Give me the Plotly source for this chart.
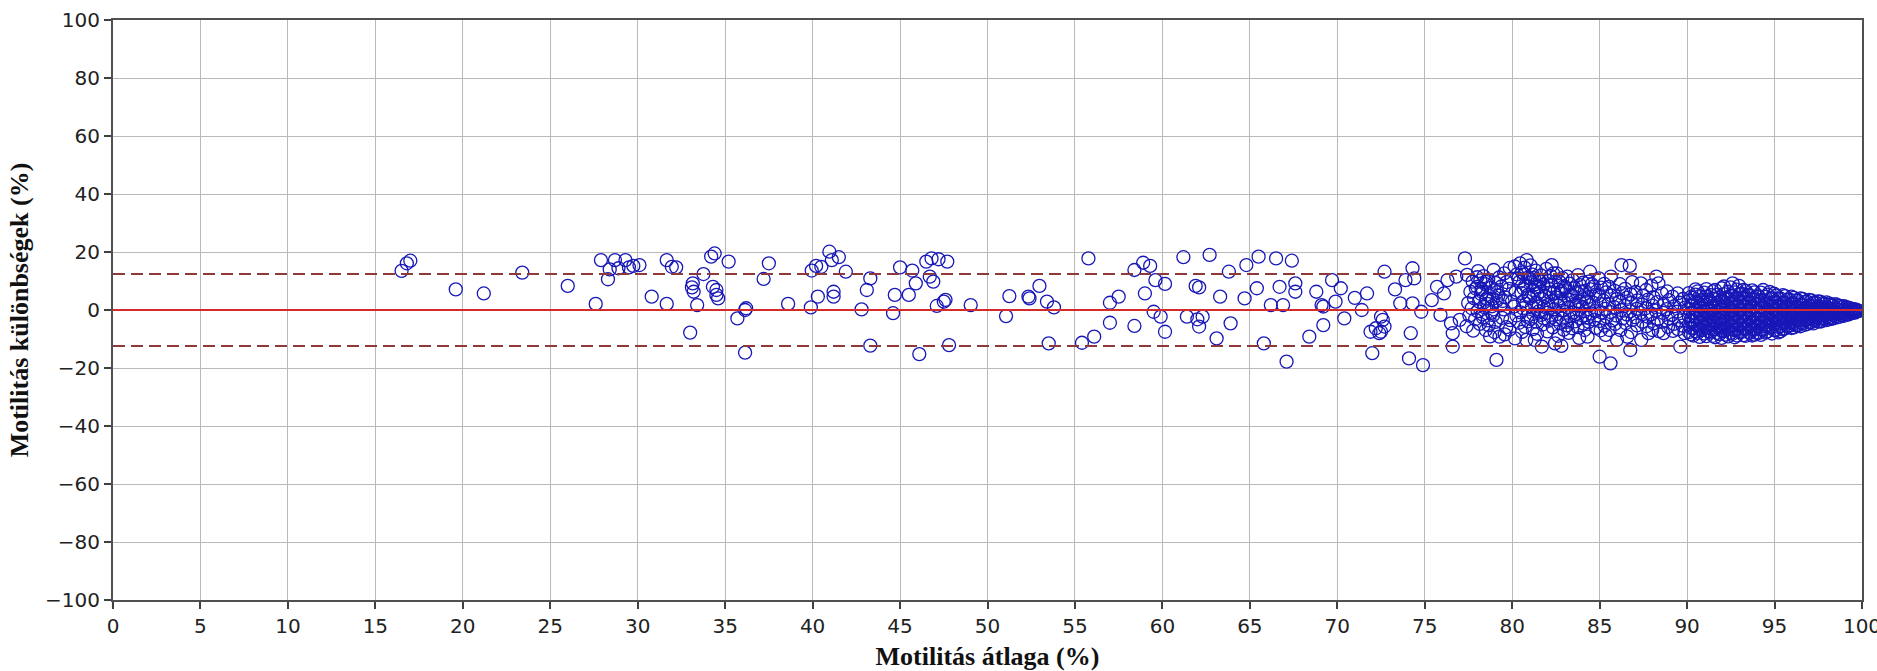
import plotly.graph_objects as go

# ---------------- data ----------------
# sparse points, low / middle motility range
sparse_x = [16.5, 16.8, 17.0, 19.6, 21.2, 23.4,
            26.0, 27.6, 27.9, 28.3, 28.4, 28.7, 28.9, 29.3, 29.5, 29.75, 30.1, 30.8, 31.66, 31.66,
            31.95, 32.2, 33.0, 33.1, 33.15, 33.2, 33.4, 33.76, 34.2, 34.4, 34.3, 34.5, 34.6, 34.5,
            35.2, 35.7, 36.14, 36.2, 36.14, 37.2, 37.5, 38.6, 39.9, 39.95, 40.2, 40.5, 40.3, 40.96,
            41.1, 41.2, 41.2, 41.5, 41.9, 42.8, 43.1, 43.3, 43.3, 44.6, 44.7, 45.0, 45.5, 45.7,
            45.9, 46.1, 46.5, 46.8, 46.7, 46.9, 47.1, 47.6, 47.7, 47.8, 47.2, 47.5,
            49.04, 51.06, 51.25, 52.34, 52.4, 52.97, 53.4, 53.5, 53.8, 55.4, 55.77, 56.1, 57.0,
            57.0, 57.5, 58.4, 58.4, 58.9, 59.0, 59.3, 59.5, 59.6, 59.9, 60.15, 60.15, 61.2, 61.4,
            61.9, 62.1, 62.0, 62.3, 62.1, 62.7, 63.1, 63.3, 63.8, 63.9, 64.7, 64.8, 65.4, 65.5,
            65.8, 66.2, 66.5, 66.7, 66.9, 67.1, 67.4, 67.6, 67.6, 68.4, 68.8, 69.1, 69.2, 69.2,
            69.7, 69.9, 70.2, 70.4]
sparse_y = [13.5, 16.1, 17.0, 7.1, 5.7, 12.9,
            8.3, 2.1, 17.2, 10.6, 14.0, 17.2, 14.4, 17.2, 14.7, 15.2, 15.5, 4.6, 2.1, 17.2,
            14.9, 14.7, -7.8, 7.8, 9.2, 6.3, 1.7, 12.4, 18.4, 19.5, 8.0, 6.9, 4.0, 5.2,
            16.7, -2.9, 0.0, 0.6, -14.7, 10.7, 16.1, 2.1, 0.9, 13.6, 15.2, 14.9, 4.6, 20.1,
            17.2, 6.3, 4.6, 18.2, 13.2, 0.2, 6.9, 10.9, -12.3, -1.1, 5.2, 14.7, 5.2, 13.6,
            9.2, -15.2, 16.7, 17.8, 11.5, 9.8, 1.4, 3.5, 16.7, -12.1, 17.5, 2.9,
            1.7, -2.1, 4.8, 4.6, 4.0, 8.3, 2.9, -11.5, 0.9, -11.3, 17.8, -9.2, 2.5,
            -4.4, 4.6, 13.8, -5.5, 16.3, 5.7, 15.2, -0.6, 10.3, -2.3, 9.0, -7.5, 18.2, -2.3,
            8.3, 7.8, -3.2, -2.3, -5.7, 19.0, -9.8, 4.6, 13.2, -4.6, 4.0, 15.5, 7.5, 18.4,
            -11.5, 1.7, 17.8, 8.0, 1.7, -17.8, 17.0, 9.2, 6.3, -9.2, 6.3, 1.7, -5.2, 1.2,
            10.3, 2.9, 7.5, -2.9]

# sparse points just before the dense cluster
edge_x = [71.0, 71.4, 71.7, 72.0, 71.9, 72.2, 72.4, 72.5, 72.7, 72.7, 73.3, 73.6, 73.9, 74.1,
          74.2, 74.3, 74.4, 74.3, 74.8, 74.9, 75.4, 75.7, 76.1, 76.3, 75.9, 76.5, 76.6, 76.6,
          76.8, 77.3, 77.0, 72.6, 72.5, 79.1]
edge_y = [4.2, 0.0, 5.7, -14.9, -7.5, -6.3, -8.0, -2.3, -5.7, 13.2, 7.1, 2.3, 10.3, -16.7,
          -8.0, 14.4, 10.9, 2.3, -0.6, -19.0, 3.4, 8.0, 5.7, 10.3, -1.7, -4.6, -8.0, -12.6,
          11.5, 17.8, -3.4, -3.4, -7.5, -17.2]

# dense cluster 77-90, read strip by strip (x row, matching y row)
dense_x_rows = [
    [77.42, 77.61, 77.48, 77.55, 77.39],
    [77.74, 77.92, 77.81, 77.69, 77.88, 77.77],
    [78.05, 78.18, 77.99, 78.22, 78.11, 78.02, 78.15],
    [78.36, 78.47, 78.29, 78.52, 78.41, 78.33, 78.49],
    [78.63, 78.78, 78.69, 78.58, 78.81, 78.66, 78.74],
    [78.94, 79.08, 78.97, 79.12, 78.91, 79.05, 78.99],
    [79.25, 79.38, 79.21, 79.33, 79.42, 79.27],
    [79.54, 79.68, 79.59, 79.51, 79.66, 79.57],
    [79.86, 79.95, 79.82, 79.98, 79.89, 79.84],
    [80.14, 80.27, 80.19, 80.11, 80.24, 80.16],
    [80.45, 80.57, 80.41, 80.53, 80.62, 80.48, 80.39, 80.56],
    [80.83, 80.71, 80.88, 80.76, 80.92, 80.79, 80.85, 80.74, 80.81],
    [81.04, 81.16, 81.09, 81.21, 81.02, 81.13, 81.07, 81.18],
    [81.35, 81.47, 81.32, 81.44, 81.38, 81.51, 81.36, 81.42, 81.29],
    [81.66, 81.78, 81.62, 81.73, 81.81, 81.65, 81.74, 81.69],
    [81.95, 82.07, 82.12, 81.93, 82.04, 81.98, 82.09, 82.01],
    [82.26, 82.35, 82.22, 82.38, 82.29, 82.41, 82.24, 82.33, 82.45],
    [82.55, 82.68, 82.61, 82.52, 82.66, 82.58, 82.71, 82.63],
    [82.87, 82.96, 82.83, 82.99, 82.91, 82.85, 82.94, 82.81],
    [83.16, 83.27, 83.12, 83.24, 83.19, 83.31, 83.14, 83.22],
    [83.46, 83.57, 83.43, 83.55, 83.49, 83.61, 83.44],
    [83.76, 83.88, 83.72, 83.84, 83.79, 83.91, 83.74, 83.83],
    [84.05, 84.16, 84.12, 84.03, 84.19, 84.08, 84.14],
    [84.45, 84.36, 84.48, 84.33, 84.42, 84.51, 84.38, 84.31],
    [84.66, 84.77, 84.63, 84.74, 84.69, 84.78],
    [84.96, 85.08, 84.93, 85.04, 85.11, 84.98, 85.06, 85.0],
    [85.26, 85.37, 85.22, 85.33, 85.41, 85.28, 85.35],
    [85.64, 85.55, 85.68, 85.52, 85.61, 85.71, 85.57, 85.62],
    [85.86, 85.97, 85.83, 85.94, 85.88, 85.99],
    [86.25, 86.16, 86.28, 86.13, 86.22, 86.31, 86.18],
    [86.46, 86.57, 86.43, 86.54, 86.49, 86.58],
    [86.72, 86.86, 86.77, 86.83, 86.74, 86.88, 86.79, 86.75],
    [87.06, 87.17, 87.12, 87.03, 87.14],
    [87.36, 87.47, 87.43, 87.33, 87.45, 87.38],
    [87.66, 87.77, 87.63, 87.74, 87.68, 87.79],
    [87.96, 88.07, 88.03, 87.94, 88.09, 88.01],
    [88.24, 88.36, 88.28, 88.21, 88.33, 88.38],
    [88.56, 88.67, 88.63, 88.54, 88.65],
    [88.86, 88.97, 88.83, 88.94, 88.91],
    [89.16, 89.27, 89.13, 89.24, 89.19],
    [89.46, 89.57, 89.43, 89.54, 89.48, 89.61],
    [89.76, 89.87, 89.83, 89.74, 89.85],
]
dense_y_rows = [
    [12.1, 6.3, 2.4, -1.9, -5.6],
    [9.8, 7.4, 4.1, 0.6, -3.2, -7.1],
    [13.4, 10.2, 8.0, 5.5, 2.9, -0.4, -4.8],
    [11.7, 8.9, 6.2, 3.6, 1.0, -2.6, -6.9],
    [10.5, 7.6, 4.9, 2.1, -0.9, -5.3, -9.1],
    [13.8, 9.3, 6.8, 3.2, -1.8, -4.1, -7.6],
    [11.2, 8.1, 5.0, 1.6, -2.7, -9.2],
    [12.6, 9.6, 4.4, 0.2, -5.9, -8.4],
    [14.5, 10.8, 7.3, 2.8, -3.5, -6.8],
    [15.0, 12.3, 6.1, 1.2, -1.9, -9.8],
    [16.1, 13.0, 9.7, 5.8, 3.0, -0.8, -4.4, -7.5],
    [17.2, 14.6, 11.1, 8.4, 5.2, 2.1, -2.3, -5.8, -10.3],
    [15.4, 12.2, 9.5, 6.9, 4.1, 0.9, -3.1, -6.6],
    [13.6, 10.4, 7.8, 5.5, 2.6, -0.5, -4.0, -8.2, -10.3],
    [11.9, 8.8, 6.3, 3.8, 1.1, -1.7, -5.0, -12.6],
    [14.2, 10.1, 7.2, 4.5, 1.8, -1.0, -3.7, -7.4],
    [15.5, 12.6, 8.6, 5.9, 3.1, 0.3, -2.6, -6.0, -11.5],
    [12.6, 9.9, 7.0, 4.3, 1.5, -1.4, -4.4, -8.9],
    [11.0, 8.2, 5.6, 2.7, -0.2, -3.0, -6.8, -12.4],
    [11.5, 9.1, 6.4, 3.5, 0.8, -2.1, -5.3, -7.9],
    [10.3, 7.5, 4.8, 2.0, -0.9, -3.9, -6.3],
    [12.0, 8.6, 5.8, 3.0, 0.1, -2.8, -5.9, -9.6],
    [9.4, 6.6, 3.8, 1.1, -1.8, -4.7, -6.9],
    [13.2, 9.8, 7.1, 4.4, 1.6, -1.2, -4.1, -9.2],
    [8.1, 5.3, 2.5, -0.4, -3.3, -6.2],
    [10.9, 7.7, 4.9, 2.0, -0.8, -3.8, -7.0, -16.1],
    [9.0, 6.1, 3.2, 0.4, -2.4, -5.4, -8.6],
    [11.5, 8.0, 5.0, 2.1, -0.7, -3.6, -6.9, -18.4],
    [6.6, 3.8, 1.0, -1.9, -4.8, -10.3],
    [15.5, 8.9, 5.8, 2.9, 0.0, -2.9, -6.9],
    [7.3, 4.3, 1.4, -1.5, -4.5, -9.2],
    [15.2, 9.6, 5.4, 2.5, -0.5, -3.4, -7.6, -13.8],
    [6.2, 3.3, 0.4, -2.5, -5.3],
    [9.2, 4.9, 1.9, -1.0, -4.0, -10.3],
    [6.9, 3.6, 0.6, -2.3, -5.6, -8.0],
    [8.4, 4.4, 1.5, -1.5, -4.6, -6.9],
    [11.5, 9.2, 2.7, -0.2, -3.2, -7.3],
    [5.7, 2.0, -1.0, -4.1, -8.0],
    [6.4, 3.4, 0.3, -2.8, -5.8],
    [4.6, 1.3, -1.7, -4.8, -7.2],
    [5.7, 2.5, -0.6, -3.6, -6.6, -12.6],
    [3.8, 0.8, -2.3, -5.4, -8.0],
]

# extra points inside the densest part of the cluster
dense2_x = [78.25, 78.55, 78.85, 79.15, 79.45, 80.35, 80.65, 80.95, 81.25, 81.55, 81.85, 82.15,
            82.45, 82.75, 83.05, 83.35, 83.65, 83.95, 84.25, 84.55,
            78.3, 78.6, 78.9, 80.6, 80.9, 81.2, 81.5, 81.8, 82.5, 83.1, 83.7, 84.3,
            78.0, 78.5, 80.7, 81.0, 81.3, 81.6, 82.2, 82.8]
dense2_y = [7.1, 4.0, 1.3, 6.2, 3.1, 10.9, 7.4, 4.6, 11.0, 8.1, 4.9, 6.0,
            9.8, 3.3, 7.8, 5.2, 1.7, 6.3, 3.0, 8.9,
            -1.5, -3.6, 3.9, 0.6, -3.9, -1.4, 1.2, -2.9, -3.2, -4.1, -1.3, -2.6,
            11.3, 9.7, 12.3, 10.8, 8.8, 9.9, 11.8, 6.4]

# narrowing wedge 90-100 (two interleaved sets of strips)
wedge_cols = [90.1, 90.35, 90.6, 90.85, 91.1, 91.35, 91.6, 91.85, 92.1, 92.35, 92.6, 92.85,
              93.1, 93.35, 93.6, 93.85, 94.1, 94.35, 94.6, 94.85, 95.1, 95.35, 95.6, 95.85,
              96.1, 96.35, 96.6, 96.85, 97.1, 97.35, 97.6, 97.85, 98.1, 98.35, 98.6, 98.85,
              99.1, 99.3, 99.5, 99.7, 99.85]
wedge_vals = [
    [5.8, 3.1, 0.4, -2.2, -4.9, -7.6],
    [4.2, 1.6, -1.1, -3.8, -6.3, -8.8],
    [6.4, 2.7, -0.3, -2.9, -5.5, -7.9],
    [3.5, 0.9, -1.7, -4.4, -6.9],
    [7.2, 4.6, 1.9, -0.8, -3.4, -6.1, -9.0],
    [5.1, 2.4, -0.2, -2.6, -5.2, -7.7],
    [6.9, 3.8, 1.2, -1.4, -4.0, -6.6, -9.4],
    [4.4, 1.7, -0.9, -3.5, -6.0, -8.3],
    [8.1, 5.5, 2.9, 0.3, -2.3, -4.8, -7.3],
    [6.3, 3.6, 1.0, -1.6, -4.1, -6.7, -9.1],
    [9.2, 4.9, 2.2, -0.4, -3.0, -5.6, -8.2],
    [7.0, 4.1, 1.4, -1.2, -3.8, -6.4, -8.8],
    [5.6, 2.8, 0.2, -2.5, -5.0, -7.6],
    [6.6, 3.9, 1.2, -1.4, -4.0, -6.5, -8.9],
    [5.0, 2.3, -0.3, -2.9, -5.4, -7.8],
    [6.1, 3.4, 0.8, -1.8, -4.3, -6.8, -8.5],
    [4.7, 2.0, -0.6, -3.1, -5.6, -7.9],
    [6.9, 3.2, 0.6, -1.9, -4.4, -6.8],
    [5.3, 2.6, 0.0, -2.5, -5.0, -7.4],
    [4.1, 1.5, -1.0, -3.4, -5.8, -8.1],
    [5.0, 2.5, 0.1, -2.3, -4.7, -6.9],
    [3.9, 1.4, -0.9, -3.2, -5.5, -7.3],
    [4.8, 2.3, -0.1, -2.4, -4.6, -6.4],
    [3.6, 1.2, -1.1, -3.3, -5.4],
    [4.2, 1.9, -0.3, -2.5, -4.6, -6.0],
    [3.2, 0.9, -1.3, -3.4, -5.2],
    [3.8, 1.6, -0.5, -2.6, -4.5],
    [2.9, 0.8, -1.3, -3.3, -4.9],
    [3.3, 1.2, -0.8, -2.7, -4.2],
    [2.5, 0.5, -1.5, -3.4],
    [2.9, 0.9, -1.0, -2.8, -4.0],
    [2.1, 0.2, -1.6, -3.2],
    [2.3, 0.5, -1.2, -2.8],
    [1.6, -0.1, -1.7, -2.9],
    [1.7, 0.1, -1.3, -2.5],
    [1.1, -0.4, -1.8],
    [1.0, -0.3, -1.5],
    [0.6, -0.6, -1.3],
    [0.3, -0.8],
    [0.0, -0.5],
    [-0.3],
]
wedge2_cols = [90.22, 90.48, 90.72, 90.97, 91.22, 91.48, 91.72, 91.97, 92.22, 92.48, 92.72,
               92.97, 93.22, 93.48, 93.72, 93.97, 94.22, 94.48, 94.72, 94.97, 95.22, 95.48,
               95.72, 95.97, 96.22, 96.48, 96.72, 96.97, 97.22, 97.48, 97.72, 97.97, 98.22,
               98.48, 98.72, 98.97, 99.2, 99.4, 99.6]
wedge2_vals = [
    [4.5, 1.8, -0.9, -3.5, -6.2, -8.4],
    [7.1, 5.3, 2.9, 0.2, -2.4, -5.0, -7.3],
    [4.8, 1.4, -1.4, -4.1, -6.6, -9.3],
    [6.0, 2.5, -0.2, -2.9, -5.6, -8.1],
    [3.6, 0.6, -2.0, -4.7, -7.4],
    [6.4, 3.9, 1.0, -1.5, -4.1, -6.8, -8.9],
    [5.3, 2.5, -0.2, -2.7, -5.3, -7.9],
    [7.5, 3.2, 0.5, -2.2, -4.7, -7.1, -9.6],
    [4.3, 1.7, -0.9, -3.5, -6.0, -8.5],
    [7.8, 5.0, 2.4, -0.3, -2.8, -5.4, -7.9],
    [6.1, 3.4, 0.8, -1.8, -4.4, -7.0, -9.4],
    [8.3, 5.4, 2.7, 0.1, -2.5, -5.1, -7.6],
    [6.9, 4.2, 1.5, -1.1, -3.7, -6.2, -8.7],
    [5.2, 2.5, -0.1, -2.7, -5.2, -7.6],
    [6.8, 3.9, 1.2, -1.4, -4.0, -6.5, -8.8],
    [4.6, 2.0, -0.6, -3.1, -5.6, -7.9],
    [6.0, 3.5, 0.9, -1.7, -4.2, -6.7, -8.6],
    [4.5, 1.9, -0.6, -3.1, -5.6, -7.8],
    [6.2, 3.8, 1.3, -1.2, -3.7, -6.1],
    [5.6, 2.8, 0.4, -2.1, -4.5, -6.9],
    [3.8, 1.3, -1.1, -3.5, -5.8, -7.7],
    [5.1, 2.6, 0.3, -2.0, -4.2, -6.6],
    [3.6, 1.1, -1.2, -3.5, -5.7],
    [4.6, 2.3, 0.1, -2.2, -4.3, -6.2],
    [3.3, 1.0, -1.2, -3.5, -5.3],
    [4.0, 1.8, -0.4, -2.5, -4.4, -5.6],
    [2.8, 0.6, -1.5, -3.5, -5.1],
    [3.5, 1.5, -0.4, -2.4, -4.3],
    [2.5, 0.4, -1.6, -3.5, -4.6],
    [3.0, 1.2, -0.6, -2.4, -3.9],
    [2.3, 0.5, -1.3, -2.9, -3.8],
    [2.6, 0.9, -0.8, -2.4, -3.5],
    [1.9, 0.2, -1.4, -2.6, -3.1],
    [2.0, 0.6, -0.9, -2.2],
    [1.4, 0.0, -1.4, -2.3],
    [1.3, 0.1, -1.1, -2.0],
    [0.8, -0.3, -1.6],
    [0.4, -0.5, -1.1],
    [0.2, -0.3, -0.9],
]

mean_diff = 0.0
loa_upper = 12.4
loa_lower = -12.4

x_ticks = list(range(0, 101, 5))
y_ticks = [-100, -80, -60, -40, -20, 0, 20, 40, 60, 80, 100]
y_ticklabels = ["\u2212100", "\u221280", "\u221260", "\u221240", "\u221220", "0",
                "20", "40", "60", "80", "100"]

# ---------------- build ----------------
all_x = list(sparse_x) + list(edge_x) + list(dense2_x)
all_y = list(sparse_y) + list(edge_y) + list(dense2_y)
for xs, ys in zip(dense_x_rows, dense_y_rows):
    all_x += xs
    all_y += ys
for cols, vals in ((wedge_cols, wedge_vals), (wedge2_cols, wedge2_vals)):
    for cx, ys in zip(cols, vals):
        all_x += [cx] * len(ys)
        all_y += ys

fig = go.Figure()
fig.add_trace(go.Scatter(
    x=all_x, y=all_y, mode="markers",
    marker=dict(symbol="circle-open", size=13, color="#1818b8",
                line=dict(width=1.3, color="#1818b8")),
    showlegend=False, hoverinfo="x+y"))

fig.add_trace(go.Scatter(x=[0, 100], y=[mean_diff, mean_diff], mode="lines",
                         line=dict(color="#d42a2a", width=2), showlegend=False,
                         hoverinfo="skip"))
for v in (loa_upper, loa_lower):
    fig.add_trace(go.Scatter(x=[0, 100], y=[v, v], mode="lines",
                             line=dict(color="#8f3a3a", width=2, dash="12px,6px"),
                             showlegend=False, hoverinfo="skip"))

axis_common = dict(
    showgrid=True, gridcolor="#b9b9b9", gridwidth=1,
    showline=True, linecolor="#505050", linewidth=2, mirror=True,
    ticks="outside", ticklen=7, tickwidth=1.5, tickcolor="#404040",
    tickfont=dict(family="DejaVu Sans", size=20, color="#222222"),
    zeroline=False, automargin=False,
)

title_font = dict(family="Liberation Serif", size=26, color="#111111", weight="bold")

fig.update_layout(
    width=1877, height=671,
    margin=dict(l=113, r=15, t=20, b=71),
    paper_bgcolor="white", plot_bgcolor="white",
    xaxis=dict(range=[0, 100], tickvals=x_ticks, ticktext=[str(t) for t in x_ticks],
               ticklabeloverflow="allow",
               title=dict(text="Motilitás átlaga (%)", standoff=12, font=title_font),
               **axis_common),
    yaxis=dict(range=[-100, 100], tickvals=y_ticks, ticktext=y_ticklabels,
               title=dict(text="Motilitás különbségek (%)", standoff=9, font=title_font),
               **axis_common),
)

fig.write_html("out.html",
               config={"displayModeBar": False},
               post_script="document.body.style.margin='0px';"
                           "document.body.style.overflow='hidden';")
